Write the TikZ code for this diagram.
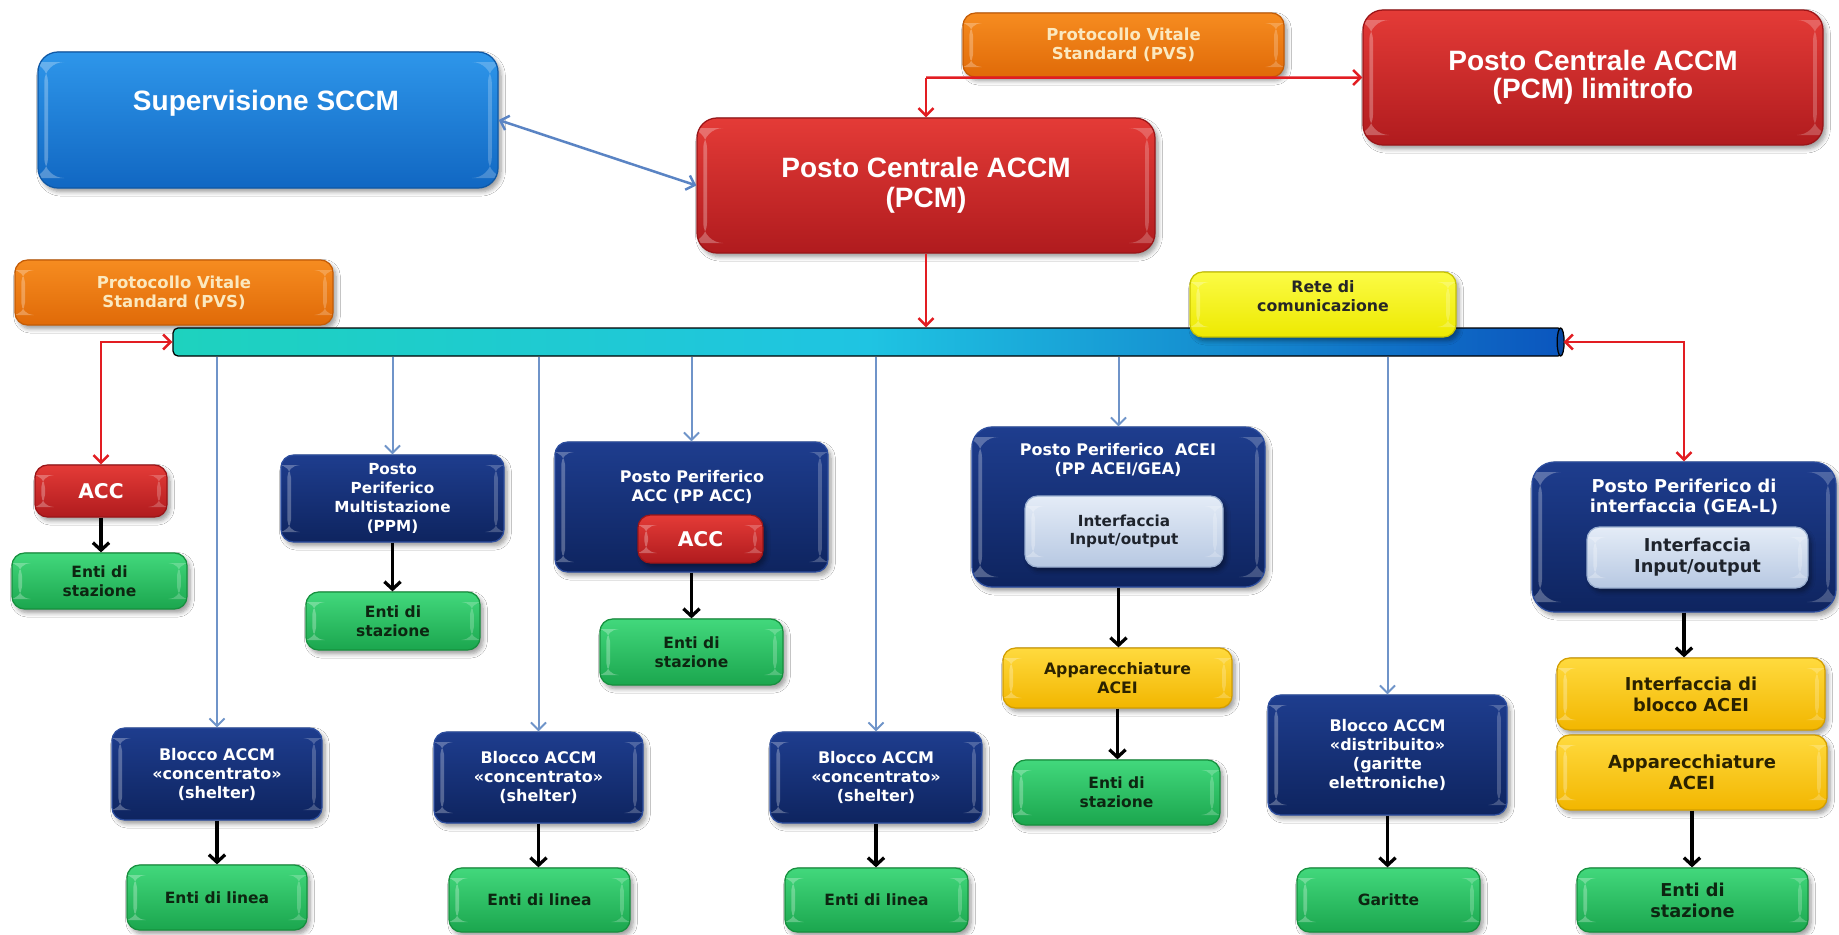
\documentclass[tikz,border=0pt]{standalone}
\usepackage{fontspec}
\newfontfamily\headfont{Liberation Sans}
\newfontfamily\labfont{DejaVu Sans}
\usetikzlibrary{arrows.meta,shadows.blur}

\definecolor{redT}{HTML}{E43B37}
\definecolor{redB}{HTML}{B01B1E}
\definecolor{redD}{HTML}{9A1518}
\definecolor{orT}{HTML}{F68C20}
\definecolor{orB}{HTML}{E06A08}
\definecolor{orD}{HTML}{C45C06}
\definecolor{orTx}{HTML}{FBE8BE}
\definecolor{skT}{HTML}{2E96EA}
\definecolor{skB}{HTML}{1167C2}
\definecolor{skD}{HTML}{0E58A6}
\definecolor{nvT}{HTML}{1E3D8E}
\definecolor{nvB}{HTML}{0E245F}
\definecolor{nvD}{HTML}{2D4E9F}
\definecolor{grT}{HTML}{42D87C}
\definecolor{grB}{HTML}{1BA64E}
\definecolor{grD}{HTML}{16903E}
\definecolor{grTx}{HTML}{0D2611}
\definecolor{ylT}{HTML}{FFDA3E}
\definecolor{ylB}{HTML}{F2B600}
\definecolor{ylD}{HTML}{D39E00}
\definecolor{ylTx}{HTML}{2B2200}
\definecolor{rtT}{HTML}{FBFB45}
\definecolor{rtB}{HTML}{EDE900}
\definecolor{rtD}{HTML}{C6C200}
\definecolor{ltT}{HTML}{E4ECF7}
\definecolor{ltB}{HTML}{B7C8E2}
\definecolor{ltD}{HTML}{9AAFD0}
\definecolor{ltTx}{HTML}{1E232C}
\definecolor{busL}{HTML}{1ED2BE}
\definecolor{busM}{HTML}{1FC4E2}
\definecolor{busR}{HTML}{0B56BE}
\definecolor{linkRed}{HTML}{E21D22}
\definecolor{linkBlue}{HTML}{6F94C9}
\definecolor{linkSky}{HTML}{5A84C4}

\newcommand\fs[2]{\fontsize{#1}{#2}\selectfont}
% box from its corners (x1,y1)-(x2,y2) in pixel units
\newcommand\mkbox[7]{%
  \node[#2, minimum width={(#5-#3)*0.4pt}, minimum height={(#6-#4)*0.4pt}]
    (#1) at ({(#3+#5)/2},{(#4+#6)/2}) {#7};}

\tikzset{
  bevel/.style={path picture={
      \fill[white,opacity=.28]
        ([xshift=2.5pt,yshift=-4pt]path picture bounding box.north west)
        rectangle ([xshift=4pt,yshift=4pt]path picture bounding box.south west);
      \fill[white,opacity=.22]
        ([xshift=-2.5pt,yshift=-4pt]path picture bounding box.north east)
        rectangle ([xshift=-4pt,yshift=4pt]path picture bounding box.south east);}},
  base/.style={rounded corners=5pt, line width=0.5pt, align=center, inner sep=0pt,
     blur shadow={shadow xshift=1.2pt, shadow yshift=-1.5pt,
                  shadow blur steps=6, shadow opacity=40}, bevel},
  redbox/.style={base, top color=redT, bottom color=redB, draw=redD,
     text=white, font=\labfont\bfseries\fs{8.1}{9.5}},
  orbox/.style={base, top color=orT, bottom color=orB, draw=orD,
     text=orTx, font=\labfont\bfseries\fs{6.6}{7.6}},
  skybox/.style={base, rounded corners=8pt, top color=skT, bottom color=skB, draw=skD},
  navybox/.style={base, top color=nvT, bottom color=nvB, draw=nvD,
     text=white, font=\labfont\bfseries\fs{6.4}{7.6}},
  greenbox/.style={base, top color=grT, bottom color=grB, draw=grD,
     text=grTx, font=\labfont\bfseries\fs{6.2}{7.5}},
  yelbox/.style={base, top color=ylT, bottom color=ylB, draw=ylD,
     text=ylTx, font=\labfont\bfseries\fs{6.3}{7.5}},
  retebox/.style={base, top color=rtT, bottom color=rtB, draw=rtD},
  lightbox/.style={base, top color=ltT, bottom color=ltB, draw=ltD,
     text=ltTx, font=\labfont\bfseries\fs{6.1}{7.3}},
  bigtext/.style={font=\headfont\bfseries\fs{11.2}{12}, align=center, inner sep=0pt},
  navytext/.style={text=white, font=\labfont\bfseries\fs{6.4}{7.6}, align=center, inner sep=0pt},
  redlink/.style={draw=linkRed, line width=1pt,
     arrows={-Straight Barb[length=3pt,width=6pt]}},
  redboth/.style={redlink, arrows={Straight Barb[length=3pt,width=6pt]-Straight Barb[length=3pt,width=6pt]}},
  bluelink/.style={draw=linkBlue, line width=0.8pt,
     arrows={-Straight Barb[length=3pt,width=6pt]}},
  blacklink/.style={draw=black, line width=1.3pt,
     arrows={-Straight Barb[length=3pt,width=6.5pt]}},
}

\begin{document}
\begin{tikzpicture}[x=0.4pt, y=-0.4pt]
\fill[white] (0,0) rectangle (1839,934);
\useasboundingbox (0,0) rectangle (1839,934);

% --- central level ---------------------------------------------------------
\mkbox{sccm}{skybox}{38}{52}{498}{188}{}
\node[bigtext, text=white] (sccmt) at (266,103) {Supervisione SCCM};

\mkbox{pvsa}{orbox}{963}{13}{1284}{77}{Protocollo Vitale\\Standard (PVS)}
\mkbox{lim}{redbox, rounded corners=8pt, font=\headfont\bfseries\fs{11.2}{11.2}}{1363}{10}{1823}{145}{Posto Centrale ACCM\\(PCM) limitrofo}
\mkbox{pcm}{redbox, rounded corners=8pt, font=\headfont\bfseries\fs{11.2}{12.2}}{697}{118}{1155}{253}{Posto Centrale ACCM\\(PCM)}

\mkbox{pvsb}{orbox}{15}{260}{333}{325}{Protocollo Vitale\\Standard (PVS)}

% --- communication bus -------------------------------------------------------
\node[draw=black, line width=0.5pt, rounded corners=2pt, inner sep=0pt,
      left color=busL, right color=busR, middle color=busM,
      minimum width={(1563-173)*0.4pt}, minimum height={28*0.4pt}]
      (bus) at ({(173+1563)/2},342) {};
\draw[fill=busR!85!black, draw=black, line width=0.5pt]
      ([xshift=-1.2pt]bus.east) ellipse [x radius=1.4pt, y radius=5.6pt];

\mkbox{rete}{retebox}{1190}{272}{1456}{337}{}
\node[font=\labfont\bfseries\fs{6.3}{7.3}, text=black!85, align=center, inner sep=0pt]
      (retet) at (1323,296) {Rete di\\comunicazione};

% --- peripheral level --------------------------------------------------------
\mkbox{acca}{redbox}{35}{465}{167}{517}{ACC}
\mkbox{entia}{greenbox}{12}{553}{187}{609}{Enti di\\stazione}

\mkbox{ppm}{navybox, font=\labfont\bfseries\fs{6.1}{7.5}}{281}{455}{504}{542}{Posto\\Periferico\\Multistazione\\(PPM)}
\mkbox{entib}{greenbox}{306}{592}{480}{650}{Enti di\\stazione}

\mkbox{ppacc}{navybox}{555}{442}{828}{572}{}
\node[navytext] (ppacct) at (692,487) {Posto Periferico\\ACC (PP ACC)};
\mkbox{accb}{redbox}{638}{515}{763}{563}{ACC}
\mkbox{entic}{greenbox}{600}{619}{783}{685}{Enti di\\stazione}

\mkbox{ppacei}{navybox, rounded corners=8pt}{972}{427}{1265}{587}{}
\node[navytext] (ppaceit) at (1118,460) {Posto Periferico\ \ ACEI\\(PP ACEI/GEA)};
\mkbox{ioa}{lightbox}{1025}{496}{1223}{567}{Interfaccia\\Input/output}
\mkbox{appa}{yelbox}{1003}{648}{1232}{708}{Apparecchiature\\ACEI}
\mkbox{entid}{greenbox}{1013}{760}{1220}{825}{Enti di\\stazione}

\mkbox{blka}{navybox}{112}{728}{322}{820}{Blocco ACCM\\«concentrato»\\(shelter)}
\mkbox{linea}{greenbox}{127}{865}{307}{930}{Enti di linea}
\mkbox{blkb}{navybox}{434}{732}{643}{823}{Blocco ACCM\\«concentrato»\\(shelter)}
\mkbox{lineb}{greenbox}{449}{868}{630}{932}{Enti di linea}
\mkbox{blkc}{navybox}{770}{732}{982}{823}{Blocco ACCM\\«concentrato»\\(shelter)}
\mkbox{linec}{greenbox}{785}{868}{968}{932}{Enti di linea}

\mkbox{blkd}{navybox}{1268}{695}{1507}{815}{Blocco ACCM\\«distribuito»\\(garitte\\elettroniche)}
\mkbox{gar}{greenbox}{1297}{868}{1480}{932}{Garitte}

\mkbox{gea}{navybox, rounded corners=9pt}{1532}{462}{1836}{612}{}
\node[navytext, font=\labfont\bfseries\fs{7.1}{8.2}] (geat) at (1684,497) {Posto Periferico di\\interfaccia (GEA-L)};
\mkbox{iob}{lightbox, font=\labfont\bfseries\fs{7.1}{8.4}}{1587}{527}{1808}{588}{Interfaccia\\Input/output}
\mkbox{ifb}{yelbox, font=\labfont\bfseries\fs{7.1}{8.3}}{1557}{658}{1825}{730}{Interfaccia di\\blocco ACEI}
\mkbox{appb}{yelbox, font=\labfont\bfseries\fs{7.2}{8.6}}{1557}{735}{1827}{810}{Apparecchiature\\ACEI}
\mkbox{entie}{greenbox, font=\labfont\bfseries\fs{7.1}{8.3}}{1577}{868}{1808}{932}{Enti di\\stazione}

% --- connectors ---------------------------------------------------------------
\draw[draw=linkSky, line width=1pt,
      arrows={Straight Barb[length=3pt,width=6pt]-Straight Barb[length=3pt,width=6pt]}]
      (sccm.east) -- (pcm.west);

\coordinate (jn) at (pcm.north |- pvsa.south);
\draw[redlink] (jn) -- (lim.west);
\draw[redlink] (jn) -- (pcm.north);
\draw[redlink] (pcm.south) -- (bus.north -| pcm.south);
\draw[redboth] (bus.west) -| (acca.north);
\draw[redboth] (bus.east) -| (gea.north);

\foreach \t in {blka, ppm, blkb, ppacc, blkc, ppacei, blkd}
  \draw[bluelink] (bus.south -| \t.north) -- (\t.north);

\draw[blacklink] (acca.south) -- (acca.south |- entia.north);
\draw[blacklink] (ppm.south) -- (ppm.south |- entib.north);
\draw[blacklink] (ppacc.south) -- (ppacc.south |- entic.north);
\draw[blacklink] (ppacei.south) -- (ppacei.south |- appa.north);
\draw[blacklink] (appa.south) -- (appa.south |- entid.north);
\draw[blacklink] (blka.south) -- (blka.south |- linea.north);
\draw[blacklink] (blkb.south) -- (blkb.south |- lineb.north);
\draw[blacklink] (blkc.south) -- (blkc.south |- linec.north);
\draw[blacklink] (blkd.south) -- (blkd.south |- gar.north);
\draw[blacklink] (gea.south) -- (gea.south |- ifb.north);
\draw[blacklink] (appb.south) -- (appb.south |- entie.north);
\end{tikzpicture}
\end{document}
